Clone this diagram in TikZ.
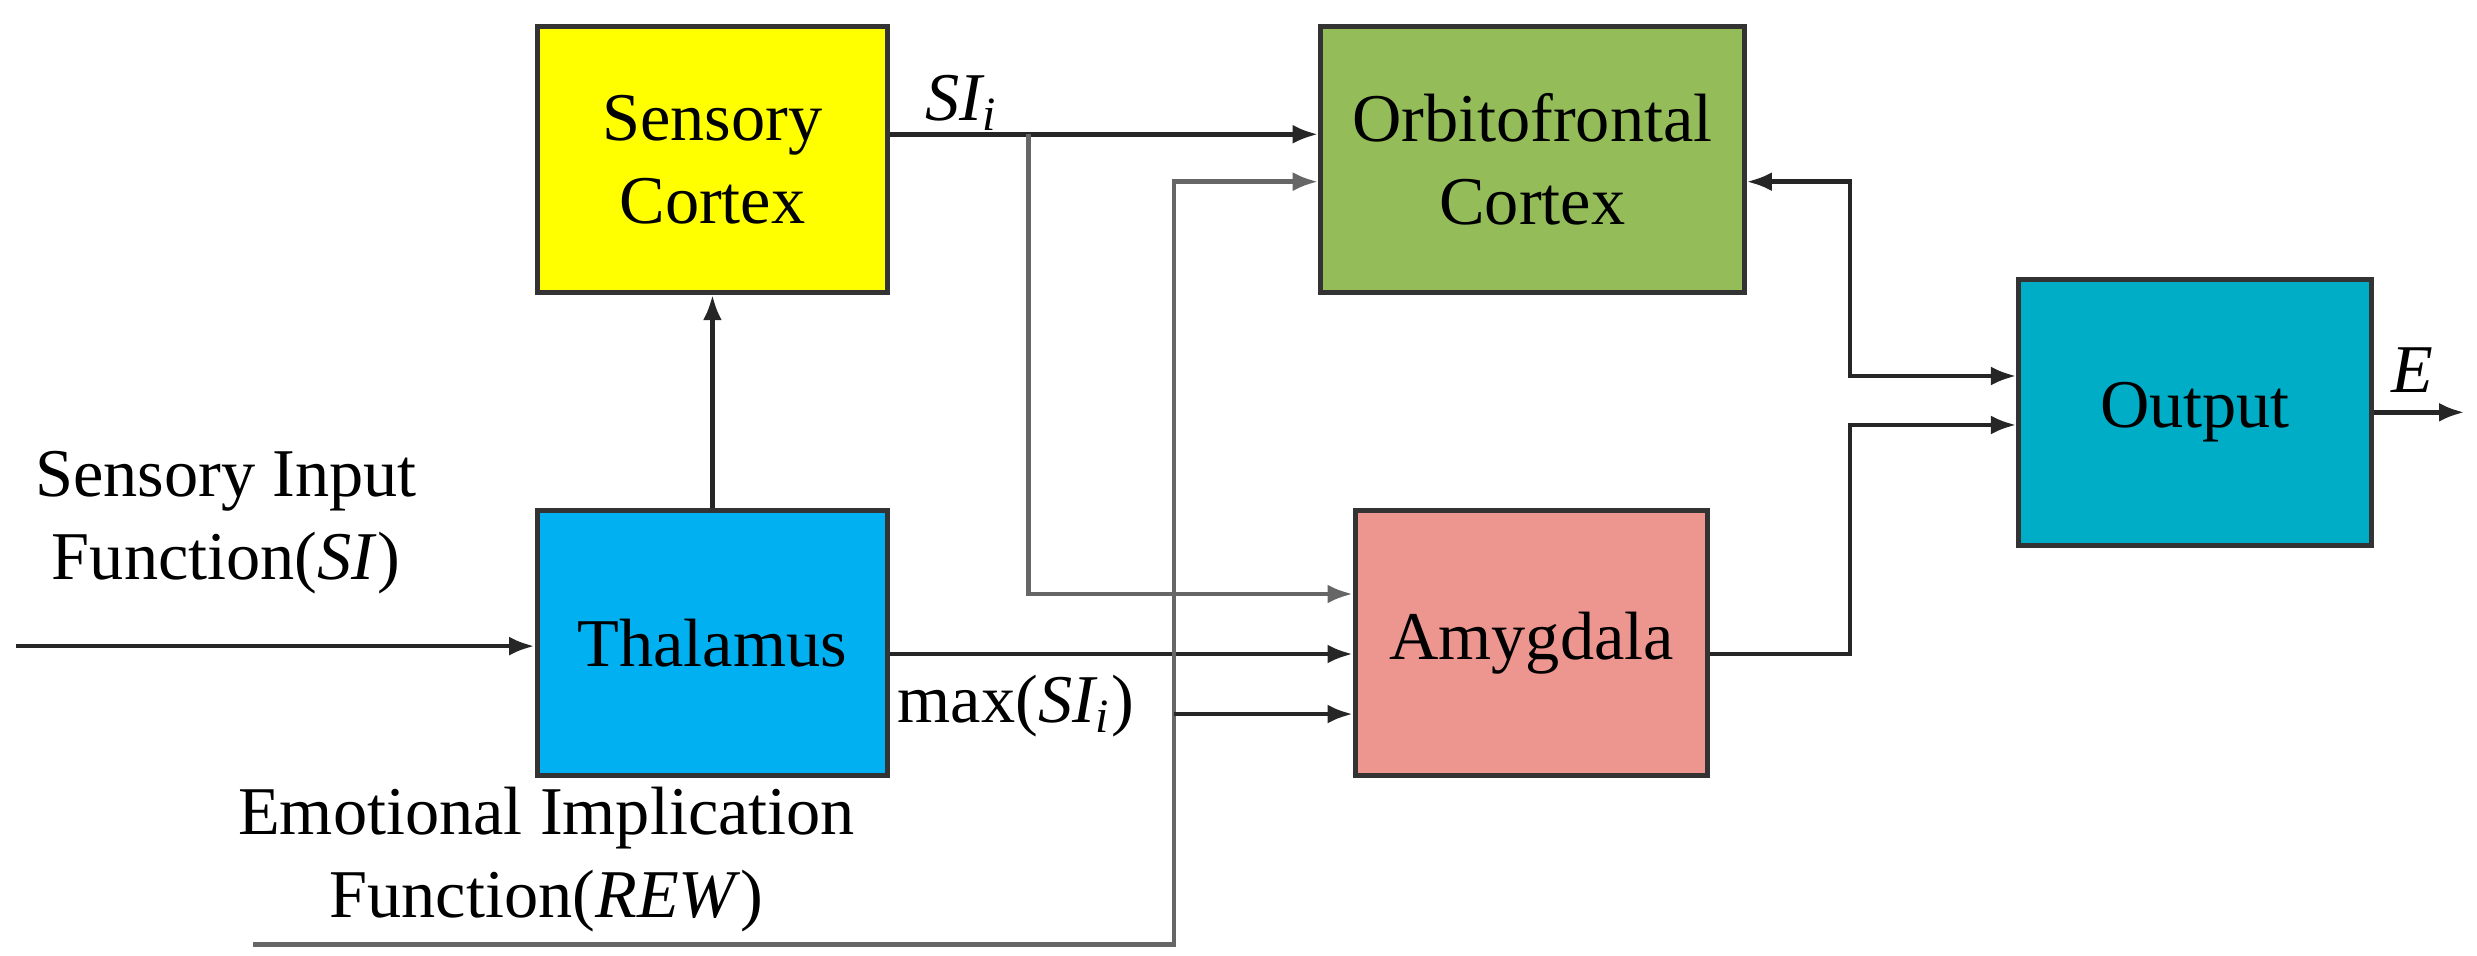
\documentclass[tikz,border=0pt]{standalone}
\usepackage{fontspec}
\setmainfont{Liberation Serif}
\usetikzlibrary{arrows.meta}

\definecolor{sensorycol}{HTML}{FFFF00}
\definecolor{thalcol}{HTML}{00B0F0}
\definecolor{orbicol}{HTML}{94BD5A}
\definecolor{amygcol}{HTML}{ED968F}
\definecolor{outcol}{HTML}{00ADC6}

\begin{document}
\begin{tikzpicture}[x=0.01cm,y=-0.01cm,
    font=\fontsize{12.3}{15}\selectfont,
    block/.style={draw=black!80, line width=0.9pt, minimum width=2.22cm, minimum height=1.68cm, align=center, inner sep=0pt},
    wire/.style={draw=black!85, line width=0.8pt},
    tip/.style={-{Latex[length=1.6mm,width=1.2mm]}}]

    \useasboundingbox (0,0) rectangle (1568,605);

    \node[block, fill=sensorycol](sens) at (451,101){Sensory\\Cortex};
    \node[block, fill=thalcol](thal) at (451,407){Thalamus};
    \node[block, fill=orbicol, minimum width=2.68cm](orbi) at (970,101){Orbitofrontal\\Cortex};
    \node[block, fill=amygcol, minimum width=2.23cm](amyg) at (969.5,407){Amygdala};
    \node[block, fill=outcol, minimum width=2.23cm](out) at (1389.5,261){Output};

    \coordinate(in) at (10,409);
    \coordinate(rew) at (160,598);
    \coordinate(rewup) at (743,598);
    \coordinate(sibr) at (651,85);
    \coordinate(fb) at (1171,238);
    \coordinate(e) at (1560,261);

    \draw[wire, tip] (in) -- (thal.west |- in);
    \draw[wire, tip] (thal.north) -- (sens.south);
    \draw[wire, tip] (sens.east |- sibr) -- (orbi.west |- sibr);
    \draw[wire, draw=black!60, tip] (sibr) -- (651,376) -- (amyg.west |- 0,376);
    \draw[wire, tip] (thal.east |- 0,414) -- (amyg.west |- 0,414);
    \draw[wire, draw=black!60, tip] (rew) -- (rewup) -- (743,115) -- (orbi.west |- 0,115);
    \draw[wire, tip] (743,452) -- (amyg.west |- 0,452);
    \draw[wire, tip] (amyg.east |- 0,414) -- (1171,414) -- (1171,269) -- (out.west |- 0,269);
    \draw[wire, {Latex[length=1.6mm,width=1.2mm]}-{Latex[length=1.6mm,width=1.2mm]}] (orbi.east |- 0,115) -- (1171,115) -- (fb) -- (out.west |- fb);
    \draw[wire, tip] (out.east |- e) -- (e);

    \node[align=center](sitext) at (143,331){Sensory Input\\Function(\textit{SI})};
    \node[align=center](rewtext) at (346,544){Emotional Implication\\Function(\textit{REW})};
    \node[anchor=base west, inner sep=0pt](silab) at (585,76){\textit{SI\textsubscript{i}}};
    \node(maxlab) at (643,447){max(\textit{SI\textsubscript{i}})};
    \node(elab) at (1527,234){\textit{E}};

\end{tikzpicture}
\end{document}
